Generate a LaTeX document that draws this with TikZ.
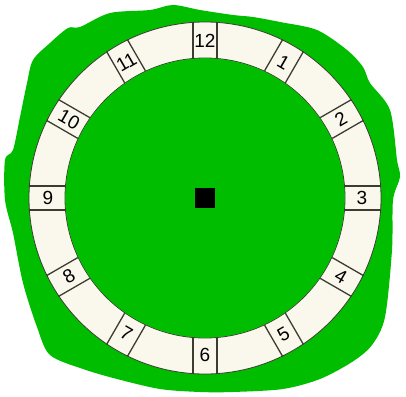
\documentclass[tikz,border=0pt]{standalone}
\usepackage{fontspec}
\setsansfont{Liberation Sans}
\definecolor{lawn}{RGB}{0,189,0}
\definecolor{dial}{RGB}{250,248,236}
\definecolor{rim}{RGB}{60,60,50}
\tikzset{
  hour/.style={font=\sffamily\fontsize{19}{19}\selectfont,inner sep=0pt},
  tick/.style={draw=rim,line width=1.3pt}
}
\begin{document}
\begin{tikzpicture}[x=1pt,y=1pt]
\useasboundingbox (-205,-198) rectangle (201,198);

% green patch behind the dial (pixel coordinates)
\begin{scope}[shift={(-205,198)},yscale=-1]
\fill[lawn] plot[smooth cycle,tension=0.5] coordinates {
  (68,28) (80,27) (110,13) (150,10) (173,5) (200,10) (233,15) (253,17)
  (280,22) (317,30) (347,50) (363,67) (370,83) (390,110) (397,160)
  (400,177) (393,200) (392,250) (385,317) (372,345) (352,362) (320,379)
  (283,389) (233,392) (200,392) (160,389) (117,379) (83,369) (50,355)
  (37,327) (23,283) (13,233) (5,200) (5,160) (13,150) (20,117) (27,83)
  (33,60) (50,43)};
\end{scope}

% ring
\fill[dial,even odd rule,draw=rim,line width=0.8pt] (0,0) circle (176) (0,0) circle (140);
\fill[lawn] (0,0) circle (139.6);

\foreach \h in {1,...,12} {
  \pgfmathsetmacro{\a}{90-30*\h}
  \pgfmathsetmacro{\t}{\a-90*round(\a/90)}
  \draw[tick] (\a:140) ++(\a+90:12) -- ++(\a:36);
  \draw[tick] (\a:140) ++(\a-90:12) -- ++(\a:36);
  \node[hour,rotate=\t] (n\h) at (\a:157) {\h};
}

\node[fill=black,minimum size=20pt,inner sep=0pt] (pin) at (0,0) {};

\end{tikzpicture}
\end{document}
